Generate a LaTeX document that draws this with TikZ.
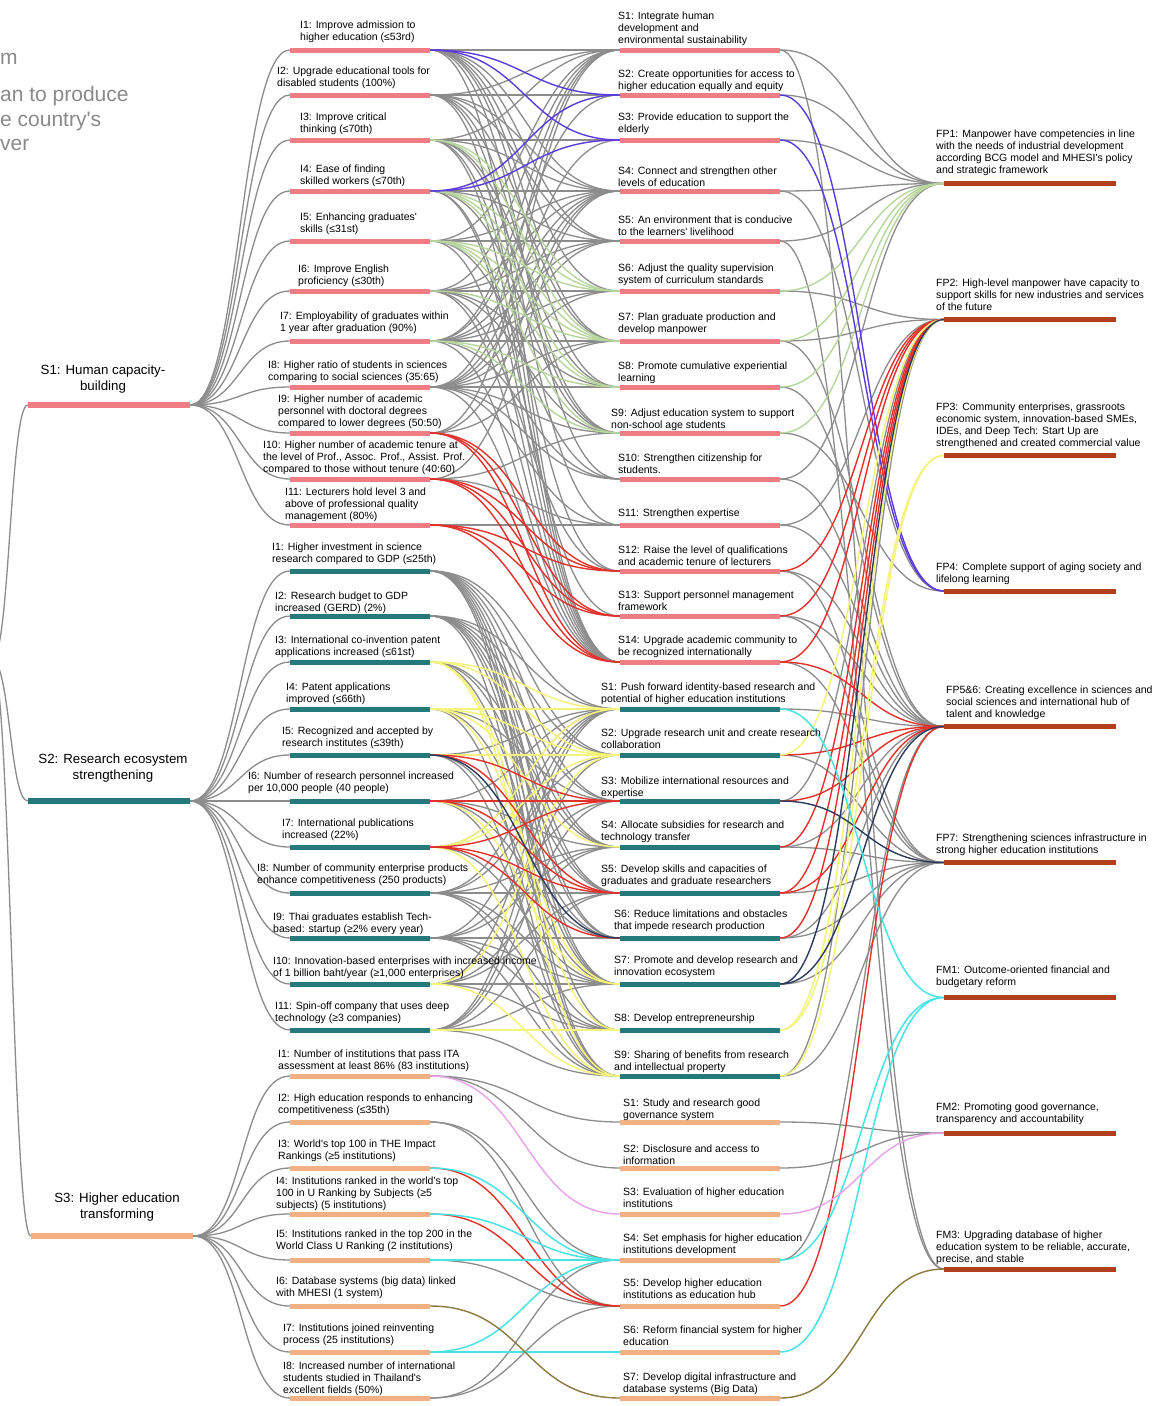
\documentclass[tikz,border=0pt]{standalone}
\usepackage{fontspec}
\setmainfont{Liberation Sans}[Ligatures=TeXOff]
\definecolor{cPink}{HTML}{F07C84}
\definecolor{cTeal}{HTML}{25797A}
\definecolor{cPeach}{HTML}{F3B083}
\definecolor{cOut}{HTML}{B0401C}
\definecolor{cLink}{HTML}{8C8C8C}
\definecolor{cPurple}{HTML}{5A3CDC}
\definecolor{cGreen}{HTML}{B7D59C}
\definecolor{cRed}{HTML}{E2312B}
\definecolor{cYellow}{HTML}{F4F47C}
\definecolor{cCyan}{HTML}{48E4E4}
\definecolor{cViolet}{HTML}{E8A2E8}
\definecolor{cOlive}{HTML}{8A7A40}
\definecolor{cNavy}{HTML}{2C3B5C}
\definecolor{cTitle}{HTML}{8A8A8A}
\pgfdeclarelayer{bg}
\pgfsetlayers{bg,main}
% multi-line labels whose base anchor is the first baseline
\newcommand\txtL[1]{\begin{tabular}[t]{@{}l@{}}#1\end{tabular}}
\newcommand\txtC[1]{\begin{tabular}[t]{@{}c@{}}#1\end{tabular}}
% horizontal-tangent link between the east end of one bar and the west end of another
\newcommand\lnk[4]{\draw[#1] (#2.east) .. controls +(#4,0) and +(-#4,0) .. (#3.west);}
\tikzset{
  lkg/.style={draw=cLink, line width=1.3pt},
  lkP/.style={draw=cPurple, line width=1.4pt},
  lkG/.style={draw=cGreen, line width=1.4pt},
  lkR/.style={draw=cRed, line width=1.4pt},
  lkY/.style={draw=cYellow, line width=1.5pt},
  lkC/.style={draw=cCyan, line width=1.5pt},
  lkV/.style={draw=cViolet, line width=1.4pt},
  lkO/.style={draw=cOlive, line width=1.4pt},
  lkN/.style={draw=cNavy, line width=1.4pt},
  bar/.style={rectangle, inner sep=0pt, minimum height=5pt},
  barS/.style={bar, minimum height=6pt, minimum width=162pt},
  barI/.style={bar, minimum width=140pt},
  barM/.style={bar, minimum width=160pt},
  barF/.style={bar, minimum width=172pt, fill=cOut},
  lab/.style={anchor=base west, inner sep=0pt, font=\fontsize{10.5}{12.3}\selectfont},
  labS/.style={anchor=base, inner sep=0pt, font=\fontsize{13.3}{16}\selectfont},
  ttl/.style={anchor=base west, inner sep=0pt, text=cTitle, font=\fontsize{21}{25}\selectfont},
}
\begin{document}
\begin{tikzpicture}[x=1pt,y=-1pt]
\useasboundingbox (0,0) rectangle (1168,1406);
\begin{pgfonlayer}{bg}
\fill[white] (0,0) rectangle (1168,1406);
\end{pgfonlayer}

% ---------- title fragments ----------
\node[ttl] (t1) at (0,64) {m};
\node[ttl] (t2) at (0,101) {an to produce};
\node[ttl] (t3) at (0,126) {e country's};
\node[ttl] (t4) at (0,150) {ver};

% ---------- bars ----------
\coordinate (root) at (-8,660);
\node[barS, fill=cPink]  (g1) at (109,405) {};
\node[barS, fill=cTeal]  (g2) at (109,801) {};
\node[barS, fill=cPeach] (g3) at (112,1236) {};

\foreach \y [count=\i] in {50,95,140,191,241,291,341,387,433,479,525}
  \node[barI, fill=cPink] (ia\i) at (360,\y) {};
\foreach \y [count=\i] in {571,616,662,709,755,801,847,893,938,984,1030}
  \node[barI, fill=cTeal] (ib\i) at (360,\y) {};
\foreach \y [count=\i] in {1076,1122,1168,1214,1260,1306,1352,1398}
  \node[barI, fill=cPeach] (ic\i) at (360,\y) {};

\foreach \y [count=\i] in {50,95,140,191,241,291,341,387,433,479,525,571,616,662}
  \node[barM, fill=cPink] (sa\i) at (700,\y) {};
\foreach \y [count=\i] in {709,755,801,847,893,938,984,1030,1076}
  \node[barM, fill=cTeal] (sb\i) at (700,\y) {};
\foreach \y [count=\i] in {1122,1168,1214,1260,1306,1352,1398}
  \node[barM, fill=cPeach] (sc\i) at (700,\y) {};

\foreach \y [count=\i] in {183.5,319.5,455.5,591,726.5,862.5,997.5,1133,1269}
  \node[barF] (f\i) at (1030,\y) {};

% ---------- links ----------
\begin{pgfonlayer}{bg}
\foreach \g in {g1,g2,g3} {\draw[lkg] (root) .. controls +(18,0) and +(-18,0) .. (\g.west);}
\foreach \i in {1,...,11} {\lnk{lkg}{g1}{ia\i}{50}}
\foreach \i in {1,...,11} {\lnk{lkg}{g2}{ib\i}{50}}
\foreach \i in {1,...,8} {\lnk{lkg}{g3}{ic\i}{50}}

% human capacity indicators -> strategies
\foreach \a/\b in {1/1,1/4,1/5,1/6,1/7,1/8,1/10,1/14,
  2/1,2/2,2/4,2/5,2/7,2/9,2/11,2/14,
  3/1,3/3,3/4,3/8,3/9,3/12,3/14,
  4/4,4/5,4/9,4/13,4/14,
  5/1,5/4,5/5,5/10,5/14,
  6/1,6/4,6/5,6/6,6/8,6/9,6/12,6/14,
  7/1,7/2,7/4,7/5,7/6,7/7,7/10,7/14,
  8/1,8/3,8/4,8/5,8/6,8/7,8/8,8/9,8/10,8/11,8/14,
  9/1,9/4,9/7,10/4,10/9,10/11,11/11}
  {\lnk{lkg}{ia\a}{sa\b}{95}}
\foreach \a/\b in {3/6,3/7,4/6,4/7,4/8,5/6,5/7,5/8,5/9,6/7,7/8,7/9}
  {\lnk{lkG}{ia\a}{sa\b}{95}}
\foreach \a/\b in {9/12,9/13,9/14,10/12,10/13,10/14,11/12,11/13,11/14}
  {\lnk{lkR}{ia\a}{sa\b}{95}}
\foreach \a/\b in {1/2,1/3,4/2,4/3}
  {\lnk{lkP}{ia\a}{sa\b}{95}}

% research indicators -> strategies
\foreach \a/\b in {1/1,1/2,1/3,1/4,1/5,1/6,1/7,1/8,1/9,
  2/1,2/2,2/3,2/4,2/5,2/6,2/7,2/9,
  3/4,3/5,3/7,4/3,4/6,4/9,5/1,5/7,5/9,6/1,6/4,6/6,6/8,7/1,7/7,
  8/1,8/2,8/4,8/5,8/7,8/8,8/9,
  9/1,9/3,9/4,9/6,9/7,9/8,9/9,
  10/1,10/4,10/5,10/7,10/8,
  11/1,11/2,11/3,11/5,11/7,11/9}
  {\lnk{lkg}{ib\a}{sb\b}{95}}
\foreach \a/\b in {3/1,3/2,3/8,3/9,4/1,4/2,4/4,4/7,5/2,6/7,7/1,7/2,7/9,10/2,10/9,11/8}
  {\lnk{lkY}{ib\a}{sb\b}{95}}
\foreach \a/\b in {5/3,5/5,6/3,6/5,7/3,7/5,7/6}
  {\lnk{lkR}{ib\a}{sb\b}{95}}
\lnk{lkN}{ib5}{sb6}{95}

% transformation indicators -> strategies
\foreach \a/\b in {1/1,1/2,2/4,2/5,5/5,8/4,8/5}
  {\lnk{lkg}{ic\a}{sc\b}{95}}
\lnk{lkV}{ic1}{sc3}{95}
\foreach \a/\b in {3/5,4/5} {\lnk{lkR}{ic\a}{sc\b}{95}}
\foreach \a/\b in {3/4,4/4,5/4,7/4,7/6} {\lnk{lkC}{ic\a}{sc\b}{95}}
\lnk{lkO}{ic6}{sc7}{95}

% strategies -> outcomes
\foreach \a/\b in {sa1/f1,sa1/f9,sa2/f1,sa3/f1,sa4/f1,sa4/f4,sa5/f1,sa5/f9,
  sa6/f2,sa7/f2,sa7/f5,sa8/f5,sa9/f4,sa10/f1,sa10/f5,sa11/f5,sa11/f2,
  sa12/f5,sa12/f6,sa13/f5,sa13/f6,sa14/f6,
  sb1/f5,sb2/f6,sb3/f2,sb4/f5,sb4/f6,sb5/f6,sb6/f5,sb6/f6,sb7/f6,sb9/f2,sb9/f6,
  sc1/f8,sc2/f8,sc4/f5}
  {\lnk{lkg}{\a}{\b}{82}}
\foreach \a/\b in {sa6/f1,sa7/f1,sa8/f1,sa9/f1} {\lnk{lkG}{\a}{\b}{82}}
\foreach \a/\b in {sa2/f4,sa3/f4} {\lnk{lkP}{\a}{\b}{82}}
\foreach \a/\b in {sa12/f2,sa13/f2,sa14/f2,sa14/f5,sb2/f5,sb3/f5,sb4/f2,sb5/f2,sb5/f5,sb6/f2,sc5/f5}
  {\lnk{lkR}{\a}{\b}{82}}
\foreach \a/\b in {sb2/f2,sb8/f3,sb8/f2,sb9/f3} {\lnk{lkY}{\a}{\b}{82}}
\foreach \a/\b in {sb3/f6,sb7/f2,sb7/f5} {\lnk{lkN}{\a}{\b}{82}}
\foreach \a/\b in {sb1/f7,sc4/f7,sc6/f7} {\lnk{lkC}{\a}{\b}{82}}
\lnk{lkV}{sc3}{f8}{82}
\lnk{lkO}{sc7}{f9}{82}
\end{pgfonlayer}

% ---------- labels: goals ----------
\node[labS] (lg1) at (103,374) {\txtC{S1: Human capacity-\\building}};
\node[labS] (lg2) at (113,763) {\txtC{S2: Research ecosystem\\strengthening}};
\node[labS] (lg3) at (117,1202) {\txtC{S3: Higher education\\transforming}};

% ---------- labels: indicators ----------
\node[lab] (lia1) at (300,28) {\txtL{I1: Improve admission to\\higher education (≤53rd)}};
\node[lab] (lia2) at (277,74) {\txtL{I2: Upgrade educational tools for\\disabled students (100\%)}};
\node[lab] (lia3) at (300,120) {\txtL{I3: Improve critical\\thinking (≤70th)}};
\node[lab] (lia4) at (300,172) {\txtL{I4: Ease of finding\\skilled workers (≤70th)}};
\node[lab] (lia5) at (300,220) {\txtL{I5: Enhancing graduates'\\skills (≤31st)}};
\node[lab] (lia6) at (298,272) {\txtL{I6: Improve English\\proficiency (≤30th)}};
\node[lab] (lia7) at (280,319) {\txtL{I7: Employability of graduates within\\1 year after graduation (90\%)}};
\node[lab] (lia8) at (268,368) {\txtL{I8: Higher ratio of students in sciences\\comparing to social sciences (35:65)}};
\node[lab] (lia9) at (278,402) {\txtL{I9: Higher number of academic\\personnel with doctoral degrees\\compared to lower degrees (50:50)}};
\node[lab] (lia10) at (263,448) {\txtL{I10: Higher number of academic tenure at\\the level of Prof., Assoc. Prof., Assist. Prof.\\compared to those without tenure (40:60)}};
\node[lab] (lia11) at (285,495) {\txtL{I11: Lecturers hold level 3 and\\above of professional quality\\management (80\%)}};

\node[lab] (lib1) at (272,550) {\txtL{I1: Higher investment in science\\research compared to GDP (≤25th)}};
\node[lab] (lib2) at (275,599) {\txtL{I2: Research budget to GDP\\increased (GERD) (2\%)}};
\node[lab] (lib3) at (275,643) {\txtL{I3: International co-invention patent\\applications increased (≤61st)}};
\node[lab] (lib4) at (286,690) {\txtL{I4: Patent applications\\improved (≤66th)}};
\node[lab] (lib5) at (282,734) {\txtL{I5: Recognized and accepted by\\research institutes (≤39th)}};
\node[lab] (lib6) at (248,779) {\txtL{I6: Number of research personnel increased\\per 10,000 people (40 people)}};
\node[lab] (lib7) at (282,826) {\txtL{I7: International publications\\increased (22\%)}};
\node[lab] (lib8) at (257,871) {\txtL{I8: Number of community enterprise products\\enhance competitiveness (250 products)}};
\node[lab] (lib9) at (273,920) {\txtL{I9: Thai graduates establish Tech-\\based: startup (≥2\% every year)}};
\node[lab] (lib10) at (273,964) {\txtL{I10: Innovation-based enterprises with increased income\\of 1 billion baht/year (≥1,000 enterprises)}};
\node[lab] (lib11) at (275,1009) {\txtL{I11: Spin-off company that uses deep\\technology (≥3 companies)}};

\node[lab] (lic1) at (278,1057) {\txtL{I1: Number of institutions that pass ITA\\assessment at least 86\% (83 institutions)}};
\node[lab] (lic2) at (278,1101) {\txtL{I2: High education responds to enhancing\\competitiveness (≤35th)}};
\node[lab] (lic3) at (278,1147) {\txtL{I3: World's top 100 in THE Impact\\Rankings (≥5 institutions)}};
\node[lab] (lic4) at (276,1184) {\txtL{I4: Institutions ranked in the world's top\\100 in U Ranking by Subjects (≥5\\subjects) (5 institutions)}};
\node[lab] (lic5) at (276,1237) {\txtL{I5: Institutions ranked in the top 200 in the\\World Class U Ranking (2 institutions)}};
\node[lab] (lic6) at (276,1284) {\txtL{I6: Database systems (big data) linked\\with MHESI (1 system)}};
\node[lab] (lic7) at (283,1331) {\txtL{I7: Institutions joined reinventing\\process (25 institutions)}};
\node[lab] (lic8) at (283,1369) {\txtL{I8: Increased number of international\\students studied in Thailand's\\excellent fields (50\%)}};

% ---------- labels: strategies ----------
\node[lab] (lsa1) at (618,19) {\txtL{S1: Integrate human\\development and\\environmental sustainability}};
\node[lab] (lsa2) at (618,77) {\txtL{S2: Create opportunities for access to\\higher education equally and equity}};
\node[lab] (lsa3) at (618,120) {\txtL{S3: Provide education to support the\\elderly}};
\node[lab] (lsa4) at (618,174) {\txtL{S4: Connect and strengthen other\\levels of education}};
\node[lab] (lsa5) at (618,223) {\txtL{S5: An environment that is conducive\\to the learners' livelihood}};
\node[lab] (lsa6) at (618,271) {\txtL{S6: Adjust the quality supervision\\system of curriculum standards}};
\node[lab] (lsa7) at (618,320) {\txtL{S7: Plan graduate production and\\develop manpower}};
\node[lab] (lsa8) at (618,369) {\txtL{S8: Promote cumulative experiential\\learning}};
\node[lab] (lsa9) at (611,416) {\txtL{S9: Adjust education system to support\\non-school age students}};
\node[lab] (lsa10) at (618,461) {\txtL{S10: Strengthen citizenship for\\students.}};
\node[lab] (lsa11) at (618,516) {\txtL{S11: Strengthen expertise}};
\node[lab] (lsa12) at (618,553) {\txtL{S12: Raise the level of qualifications\\and academic tenure of lecturers}};
\node[lab] (lsa13) at (618,598) {\txtL{S13: Support personnel management\\framework}};
\node[lab] (lsa14) at (618,643) {\txtL{S14: Upgrade academic community to\\be recognized internationally}};

\node[lab] (lsb1) at (601,690) {\txtL{S1: Push forward identity-based research and\\potential of higher education institutions}};
\node[lab] (lsb2) at (601,736) {\txtL{S2: Upgrade research unit and create research\\collaboration}};
\node[lab] (lsb3) at (601,784) {\txtL{S3: Mobilize international resources and\\expertise}};
\node[lab] (lsb4) at (601,828) {\txtL{S4: Allocate subsidies for research and\\technology transfer}};
\node[lab] (lsb5) at (601,872) {\txtL{S5: Develop skills and capacities of\\graduates and graduate researchers}};
\node[lab] (lsb6) at (614,917) {\txtL{S6: Reduce limitations and obstacles\\that impede research production}};
\node[lab] (lsb7) at (614,963) {\txtL{S7: Promote and develop research and\\innovation ecosystem}};
\node[lab] (lsb8) at (614,1021) {\txtL{S8: Develop entrepreneurship}};
\node[lab] (lsb9) at (614,1058) {\txtL{S9: Sharing of benefits from research\\and intellectual property}};

\node[lab] (lsc1) at (623,1106) {\txtL{S1: Study and research good\\governance system}};
\node[lab] (lsc2) at (623,1152) {\txtL{S2: Disclosure and access to\\information}};
\node[lab] (lsc3) at (623,1195) {\txtL{S3: Evaluation of higher education\\institutions}};
\node[lab] (lsc4) at (623,1241) {\txtL{S4: Set emphasis for higher education\\institutions development}};
\node[lab] (lsc5) at (623,1286) {\txtL{S5: Develop higher education\\institutions as education hub}};
\node[lab] (lsc6) at (623,1333) {\txtL{S6: Reform financial system for higher\\education}};
\node[lab] (lsc7) at (623,1380) {\txtL{S7: Develop digital infrastructure and\\database systems (Big Data)}};

% ---------- labels: outcomes ----------
\node[lab] (lf1) at (936,137) {\txtL{FP1: Manpower have competencies in line\\with the needs of industrial development\\according BCG model and MHESI's policy\\and strategic framework}};
\node[lab] (lf2) at (936,286) {\txtL{FP2: High-level manpower have capacity to\\support skills for new industries and services\\of the future}};
\node[lab] (lf3) at (936,410) {\txtL{FP3: Community enterprises, grassroots\\economic system, innovation-based SMEs,\\IDEs, and Deep Tech: Start Up are\\strengthened and created commercial value}};
\node[lab] (lf4) at (936,570) {\txtL{FP4: Complete support of aging society and\\lifelong learning}};
\node[lab] (lf5) at (946,693) {\txtL{FP5\&6: Creating excellence in sciences and\\social sciences and international hub of\\talent and knowledge}};
\node[lab] (lf6) at (936,841) {\txtL{FP7: Strengthening sciences infrastructure in\\strong higher education institutions}};
\node[lab] (lf7) at (936,973) {\txtL{FM1: Outcome-oriented financial and\\budgetary reform}};
\node[lab] (lf8) at (936,1110) {\txtL{FM2: Promoting good governance,\\transparency and accountability}};
\node[lab] (lf9) at (936,1238) {\txtL{FM3: Upgrading database of higher\\education system to be reliable, accurate,\\precise, and stable}};
\end{tikzpicture}
\end{document}
